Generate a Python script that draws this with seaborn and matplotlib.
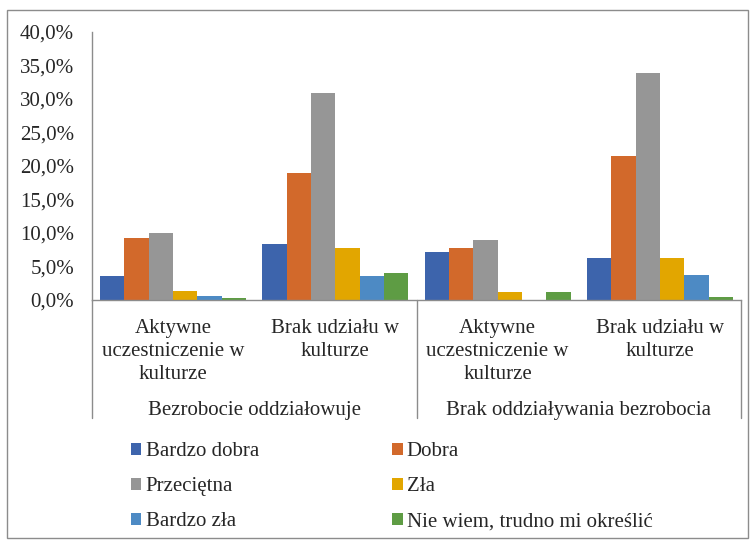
import pandas as pd
import seaborn as sns
import matplotlib.pyplot as plt
from matplotlib.patches import Patch, Rectangle
from matplotlib.ticker import FuncFormatter

# Dane (udział procentowy)
kategorie = ['Aktywne\nuczestniczenie w\nkulturze', 'Brak udziału w\nkulturze',
             'Aktywne\nuczestniczenie w\nkulturze', 'Brak udziału w\nkulturze']
grupy = ['Bezrobocie oddziałowuje', 'Brak oddziaływania bezrobocia']
oceny = ['Bardzo dobra', 'Dobra', 'Przeciętna', 'Zła', 'Bardzo zła', 'Nie wiem, trudno mi określić']

bardzo_dobra = [0.036, 0.084, 0.071, 0.063]
dobra = [0.092, 0.189, 0.077, 0.215]
przecietna = [0.100, 0.309, 0.090, 0.339]
zla = [0.013, 0.077, 0.012, 0.063]
bardzo_zla = [0.006, 0.036, 0.0, 0.038]
nie_wiem = [0.003, 0.040, 0.012, 0.004]

kolory = ['#3d64ac', '#d2692b', '#969696', '#e2a600', '#4d8ac4', '#5e9c44']

wartosci = [bardzo_dobra, dobra, przecietna, zla, bardzo_zla, nie_wiem]
rows = []
for ocena, vals in zip(oceny, wartosci):
    for i, v in enumerate(vals):
        rows.append({'poz': str(i), 'ocena': ocena, 'wartosc': v})
df = pd.DataFrame(rows)

sns.set_style('white')
plt.rcParams['font.family'] = ['Liberation Serif', 'DejaVu Serif']
FONT = 'Liberation Serif'

W, H = 756, 540
fig = plt.figure(figsize=(W / 100, H / 100), dpi=100)
ax = fig.add_axes([92 / W, 1 - 300 / H, (741 - 92) / W, 268 / H])

sns.barplot(data=df, x='poz', y='wartosc', hue='ocena', order=['0', '1', '2', '3'],
            hue_order=oceny, palette=kolory, saturation=1, width=0.9,
            linewidth=0, legend=False, ax=ax)

ax.set_xlim(-0.5, 3.5)
ax.set_ylim(0, 0.40)
ax.set_yticks([i * 0.05 for i in range(9)])
ax.yaxis.set_major_formatter(FuncFormatter(lambda v, p: f'{v * 100:.1f}%'.replace('.', ',')))
ax.set_xticks(range(4))
ax.set_xticklabels(kategorie, fontsize=15, fontfamily=FONT, linespacing=1.27)
for t in ax.get_yticklabels():
    t.set_fontfamily(FONT)
ax.tick_params(axis='x', length=0, pad=14)
ax.tick_params(axis='y', length=0, pad=13, labelsize=15)
ax.set_xlabel('')
ax.set_ylabel('')
sns.despine(ax=ax)
for s in ['left', 'bottom']:
    ax.spines[s].set_color('#8c8c8c')
    ax.spines[s].set_linewidth(1)

# etykiety grup i linie podziału
tr = ax.get_xaxis_transform()
for xc, g in zip([0.5, 2.5], grupy):
    ax.text(xc, -0.413, g, transform=tr, ha='center', va='center',
            fontsize=15, fontfamily=FONT)
for xl in [-0.5, 1.5, 3.5]:
    ax.plot([xl, xl], [0, -0.44], transform=tr, color='#8c8c8c', lw=1, clip_on=False)

# legenda w dwóch kolumnach
uchwyty = [Patch(facecolor=c, edgecolor='none') for c in kolory]
kolejnosc = [0, 2, 4, 1, 3, 5]
fig.legend([uchwyty[i] for i in kolejnosc], [oceny[i] for i in kolejnosc],
           ncol=2, loc='upper left', bbox_to_anchor=(131 / W, 1 - 442 / H),
           frameon=False, prop={'family': FONT, 'size': 15},
           handlelength=0.5, handleheight=0.5,
           handletextpad=0.2, columnspacing=6.4, labelspacing=0.77,
           borderpad=0, borderaxespad=0)

# ramka wykresu
fig.add_artist(Rectangle((7 / W, 2 / H), (748 - 7) / W, (540 - 10 - 2) / H,
                         transform=fig.transFigure, fill=False,
                         edgecolor='#8c8c8c', lw=1))

plt.savefig('out.png', dpi=100)
